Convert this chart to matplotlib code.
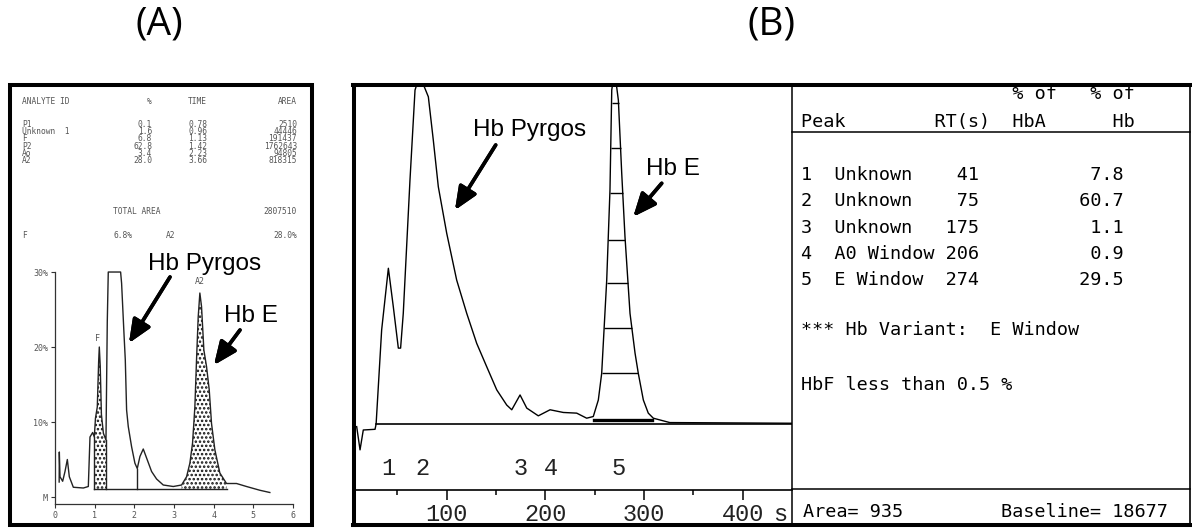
import numpy as np
import matplotlib.pyplot as plt
from matplotlib.lines import Line2D
from matplotlib.patches import Rectangle

W, H = 1192, 528

# ---- panel A: HPLC trace, % of total vs minutes ----
a_time = [0.105, 0.109, 0.126, 0.193, 0.252, 0.311, 0.361, 0.462, 0.714, 0.84, 0.882,
          0.949, 0.991, 1.02, 1.066, 1.10, 1.117, 1.14, 1.17, 1.22, 1.285,
          1.318, 1.343, 1.369, 1.654, 1.679, 1.738, 1.772, 1.805, 1.847, 1.931,
          2.015, 2.074, 2.141, 2.225, 2.309, 2.435, 2.561, 2.729, 2.981, 3.191,
          3.317, 3.40, 3.468, 3.526, 3.568, 3.61, 3.652, 3.694, 3.753, 3.82,
          3.888, 3.946, 4.03, 4.156, 4.324, 4.576, 4.828, 5.164, 5.416]
a_pct = [2.0, 6.0, 2.7, 2.1, 3.4, 5.0, 2.7, 1.3, 1.2, 1.4, 8.0,
         8.6, 8.0, 10.5, 12.0, 18.0, 20.0, 17.5, 11.0, 8.5, 7.6,
         23.4, 30.0, 30.0, 30.0, 28.5, 21.9, 18.3, 11.6, 9.4, 6.7,
         4.5, 3.8, 5.4, 6.4, 5.2, 3.4, 2.4, 1.6, 1.4, 1.6,
         2.7, 4.5, 7.2, 12.0, 18.3, 24.0, 27.2, 25.4, 19.6, 17.4,
         14.3, 9.8, 6.3, 3.2, 1.8, 1.8, 1.4, 0.9, 0.6]
a_names = ['P1', 'Unknown  1', 'F', 'P2', 'Ao', 'A2']
a_percent = [0.1, 1.6, 6.8, 62.8, 3.4, 28.0]
a_rt = [0.78, 0.96, 1.13, 1.42, 2.23, 3.66]
a_area = [2510, 44446, 191437, 1762643, 94805, 818315]
a_total = 2807510
a_base = 1.07
a_cuts = [0.991, 1.285, 2.074]
a_a2_window = [3.191, 4.324]
a_xticks = [0, 1, 2, 3, 4, 5, 6]
a_yticks = [0, 10, 20, 30]
a_yticklabels = ['M', '10%', '20%', '30%']

# ---- panel B: trace in seconds + peak report ----
b_time = [8.8, 12.2, 15.5, 27.4, 28.5, 34.1, 40.9, 45.9, 51.0, 53.3, 56.0, 62.8, 67.9,
          70.0, 76.0, 81.4, 86.4, 91.5, 100.0, 110.1, 120.3, 130.4, 140.5, 150.7,
          160.8, 165.9, 174.3, 181.1, 192.8, 204.7, 218.1, 231.7, 241.8, 248.5,
          253.6, 257.0, 262.1, 265.4, 267.2, 270.0, 273.9, 277.3, 280.6, 285.7,
          290.8, 294.1, 299.2, 304.2, 309.3, 326.0, 450.0]
b_signal = [-0.8, -7.7, -1.8, -1.6, 0.0, 27.9, 46.2, 34.8, 22.5, 22.5, 32.8, 72.4, 99.1,
            101.0, 101.0, 97.1, 84.3, 70.4, 56.6, 42.7, 32.8, 23.9, 17.0, 10.1,
            5.6, 4.2, 8.6, 4.7, 2.4, 4.2, 3.4, 3.2, 1.7, 2.2,
            7.1, 15.0, 42.7, 69.4, 99.1, 105.0, 96.1, 74.4, 55.6, 32.8,
            21.0, 15.0, 7.1, 3.2, 1.7, 0.4, 0.2]
b_peak = [1, 2, 3, 4, 5]
b_name = ['Unknown', 'Unknown', 'Unknown', 'A0 Window', 'E Window']
b_rt = [41, 75, 175, 206, 274]
b_pct_hb = [7.8, 60.7, 1.1, 0.9, 29.5]
b_slices = [15.0, 28.4, 41.8, 54.6, 68.5, 81.8, 95.2]
b_area = 935
b_baseline = 18677

fig = plt.figure(figsize=(W / 100, H / 100), dpi=100)


def frame(x0, y0, x1, y1):
    # pixel box (top-left origin) -> figure fractions
    return [x0 / W, 1 - y1 / H, (x1 - x0) / W, (y1 - y0) / H]


def hline(x0, x1, y, lw):
    fig.add_artist(Line2D([x0 / W, x1 / W], [1 - y / H] * 2, color='black', lw=lw))


def vline(x, y0, y1, lw):
    fig.add_artist(Line2D([x / W] * 2, [1 - y0 / H, 1 - y1 / H], color='black', lw=lw))


def put(x, y, s, **kw):
    fig.text(x / W, 1 - y / H, s, **kw)


def arrow(x0, y0, x1, y1):
    fig.add_artist(plt.annotate('', xy=(x1, H - y1), xytext=(x0, H - y0),
                                xycoords='figure pixels', textcoords='figure pixels',
                                arrowprops=dict(arrowstyle='-|>,head_length=0.7,head_width=0.3',
                                                lw=2.6, color='black', mutation_scale=20,
                                                shrinkA=0, shrinkB=0)))


mono = 'DejaVu Sans Mono'
sans = 'Liberation Sans'

# ---------------- panel A ----------------
axa = fig.add_axes(frame(55, 264, 293, 504))
axa.set_xlim(0, 6)
axa.set_ylim(-0.933, 31.07)
t = np.array(a_time)
p = np.array(a_pct)
plt.rcParams['hatch.linewidth'] = 1.2
for lo, hi in [(a_cuts[0], a_cuts[1]), tuple(a_a2_window)]:
    m = (t >= lo) & (t <= hi)
    axa.fill_between(t[m], a_base, p[m], facecolor='white', edgecolor='#111',
                     hatch='....', lw=0)
axa.plot(a_time, a_pct, color='#222', lw=1)
axa.plot([a_cuts[0], a_a2_window[1]], [a_base, a_base], color='#222', lw=1)
for c in a_cuts:
    axa.plot([c, c], [a_base, np.interp(c, t, p)], color='#222', lw=1)
axa.text(a_rt[2], 21.2, 'F', ha='right', va='center', fontsize=6,
         family=mono, color='#555')
axa.text(a_rt[5], 28.7, 'A2', ha='center', va='center', fontsize=6,
         family=mono, color='#555')
for s in ['top', 'right']:
    axa.spines[s].set_visible(False)
axa.spines['left'].set_bounds(-0.933, 30)
axa.spines['bottom'].set_bounds(0, 6)
for s in ['left', 'bottom']:
    axa.spines[s].set_color('#333')
    axa.spines[s].set_linewidth(0.9)
axa.set_xticks(a_xticks, [str(v) for v in a_xticks])
axa.set_yticks(a_yticks, a_yticklabels)
axa.tick_params(direction='out', length=3, width=0.8, labelsize=6,
                labelcolor='#555', color='#333', pad=2)
for lab in axa.get_xticklabels() + axa.get_yticklabels():
    lab.set_family(mono)
axa.patch.set_alpha(0)

# report header and rows
tc = dict(family=mono, fontsize=5.7, color='#555', va='center')
put(22, 102, 'ANALYTE ID', ha='left', **tc)
put(152, 102, '%', ha='right', **tc)
put(207, 102, 'TIME', ha='right', **tc)
put(297, 102, 'AREA', ha='right', **tc)
for i, name in enumerate(a_names):
    y = 124.3 + i * 7.3
    put(22, y, name, ha='left', **tc)
    put(152, y, f'{a_percent[i]:.1f}', ha='right', **tc)
    put(207, y, f'{a_rt[i]:.2f}', ha='right', **tc)
    put(297, y, str(a_area[i]), ha='right', **tc)
put(113, 211, 'TOTAL AREA', ha='left', **tc)
put(297, 211, str(a_total), ha='right', **tc)
put(22, 235, 'F', ha='left', **tc)
put(113, 235, f'{a_percent[2]:.1f}%', ha='left', **tc)
put(166, 235, 'A2', ha='left', **tc)
put(297, 235, f'{a_percent[5]:.1f}%', ha='right', **tc)

put(204.5, 270, 'Hb Pyrgos', ha='center', va='baseline', family=sans, fontsize=17.5)
put(250.5, 321.7, 'Hb E', ha='center', va='baseline', family=sans, fontsize=17.5)
arrow(170, 277, 129, 343)
arrow(240, 330, 214, 365)

# ---------------- panel B ----------------
axb = fig.add_axes(frame(355, 85, 792, 526))
axb.set_xlim(7.1, 449.8)
axb.set_ylim(-30.3, 100.6)
axb.plot(b_time, b_signal, color='black', lw=1)
axb.plot([28.5, 449.8], [0, 0], color='black', lw=1.2)

bt = np.array(b_time)
bs = np.array(b_signal)
lo = b_time.index(248.5)
top = b_time.index(270.0)
hi = b_time.index(326.0)
left = np.interp(b_slices, bs[lo:top + 1], bt[lo:top + 1])
right = np.interp(b_slices, bs[top:hi + 1][::-1], bt[top:hi + 1][::-1])
axb.hlines(b_slices, left, right, color='black', lw=1)
axb.plot([249, 308], [1.1, 1.1], color='black', lw=2.4)

for n, rt in zip(b_peak, b_rt):
    axb.text(rt, -13.1, str(n), ha='center', va='center',
             family='Liberation Mono', fontsize=17, color='#222')
axb.text(437.7, -27.0, 's', ha='center', va='center',
         family='Liberation Mono', fontsize=17, color='#222')

for s in ['top', 'right', 'left']:
    axb.spines[s].set_visible(False)
axb.spines['bottom'].set_position(('data', -19.7))
axb.spines['bottom'].set_linewidth(1.2)
axb.set_yticks([])
axb.set_xticks([100, 200, 300, 400], ['100', '200', '300', '400'])
axb.set_xticks([50, 150, 250, 350], minor=True)
axb.tick_params(axis='x', which='major', direction='out', length=7, width=1.1,
                labelsize=17, pad=2, labelcolor='#222')
axb.tick_params(axis='x', which='minor', direction='out', length=3.5, width=1.1)
for lab in axb.get_xticklabels():
    lab.set_family('Liberation Mono')
axb.patch.set_alpha(0)

put(530, 136, 'Hb Pyrgos', ha='center', va='baseline', family=sans, fontsize=17.5)
put(672.5, 175, 'Hb E', ha='center', va='baseline', family=sans, fontsize=17.5)
arrow(495.7, 145, 455, 210)
arrow(661.7, 183.3, 633.3, 216.7)

# peak report table
rc = dict(family=mono, fontsize=13.3, color='black', va='center', ha='left')
x0 = 801
put(x0, 94, ' ' * 19 + '% of' + ' ' * 3 + '% of', **rc)
put(x0, 122, 'Peak' + ' ' * 8 + 'RT(s)' + '  ' + 'HbA' + ' ' * 6 + 'Hb', **rc)
for i, n in enumerate(b_peak):
    line = f'{n}  {b_name[i]:<9}{b_rt[i]:>4}{b_pct_hb[i]:>13.1f}'
    put(x0, 175 + i * 26.3, line, **rc)
put(x0, 330, '*** Hb Variant:  ' + b_name[4], **rc)
put(x0, 385, 'HbF less than 0.5 %', **rc)
put(803, 512, f'Area= {b_area}', **rc)
put(1168, 512, f'Baseline= {b_baseline}', **{**rc, 'ha': 'right'})

# frames and rules
fig.add_artist(Rectangle((9.5 / W, 1 - 525 / H), (312 - 9.5) / W, (525 - 85) / H,
                         transform=fig.transFigure, fill=False, lw=2.9, color='black'))
vline(1190, 85, 525, 1.2)
hline(352.5, 1191, 85, 2.9)
hline(352.5, 1191, 525, 2.9)
vline(354.3, 85, 525, 2.9)
vline(792, 85, 525, 1.1)
hline(792, 1190, 131.7, 1.1)
hline(792, 1190, 489, 1.1)

put(159, 25, '(A)', ha='center', va='center', family='Open Sans', fontsize=28)
put(772, 25, '(B)', ha='center', va='center', family='Open Sans', fontsize=28)

fig.savefig('out.png', dpi=100)
